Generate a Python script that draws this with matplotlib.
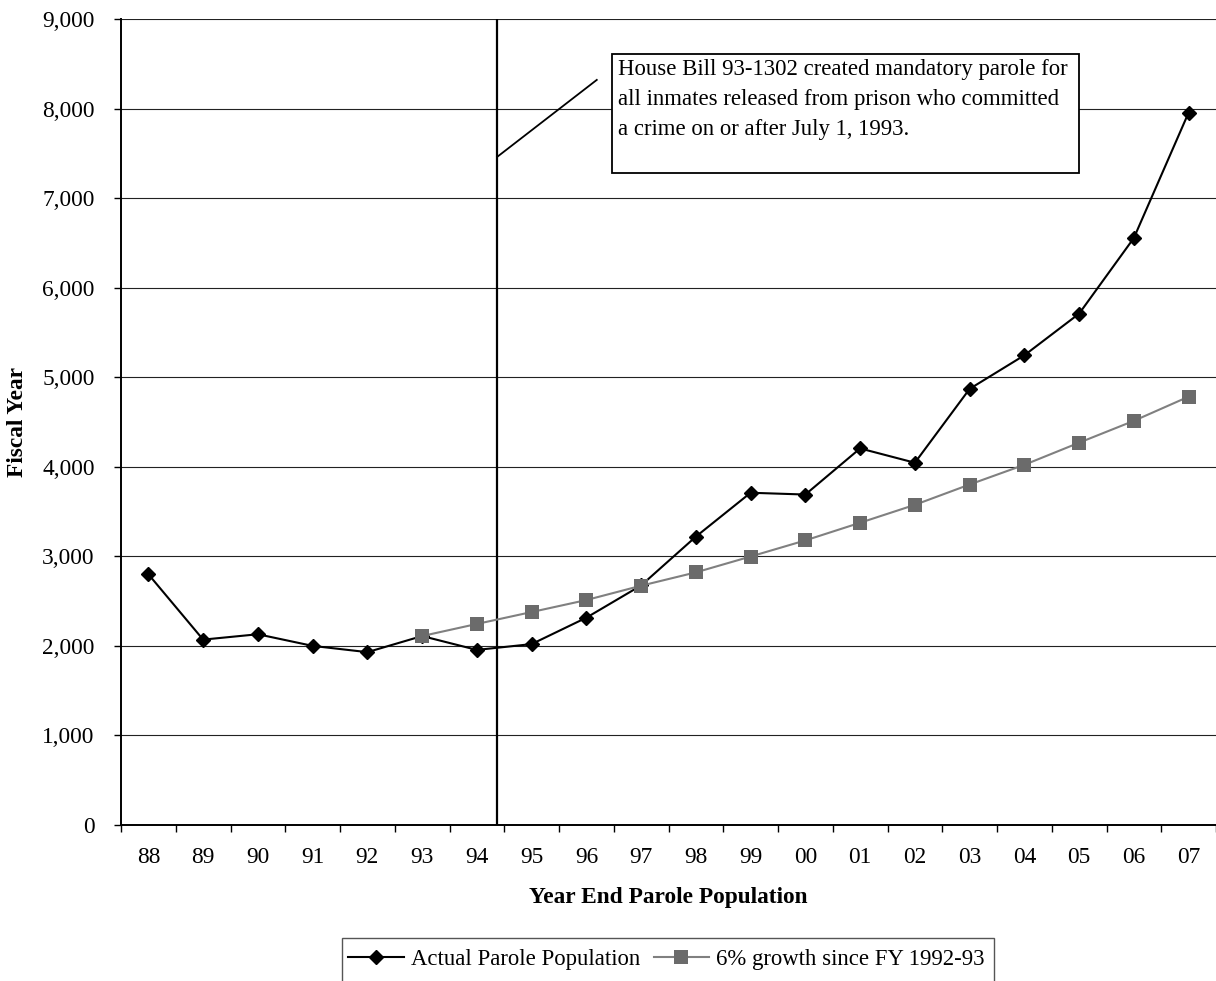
import matplotlib

matplotlib.use("Agg")
import matplotlib.pyplot as plt
from matplotlib.patches import Rectangle
import numpy as np

plt.rcParams["font.family"] = ["Liberation Serif", "DejaVu Serif"]

YEARS = ["88", "89", "90", "91", "92", "93", "94", "95", "96", "97",
         "98", "99", "00", "01", "02", "03", "04", "05", "06", "07"]

ACTUAL = [2800, 2070, 2130, 2000, 1930, 2110, 1955, 2020, 2315, 2675,
          3220, 3710, 3690, 4205, 4045, 4870, 5245, 5710, 6555, 7955]

# 6% growth projection starts at FY 1992-93 (index 5)
GROWTH_START = 5
GROWTH = [2110, 2245, 2378, 2512, 2672, 2821, 2998, 3178, 3375, 3575,
          3802, 4022, 4269, 4513, 4783]

# bill marker line, callout pointer and callout box (data coords)
BILL_X = 6.37
POINTER_X = [6.37, 8.19]
POINTER_Y = [7460, 8320]
BOX_X0, BOX_X1 = 8.47, 17.0
BOX_Y0, BOX_Y1 = 7283, 8609
NOTE = ("House Bill 93-1302 created mandatory parole for\n"
        "all inmates released from prison who committed\n"
        "a crime on or after July 1, 1993.")

FS = 16.8
NOTE_FS = 16.4

W, H = 1216, 981
fig = plt.figure(figsize=(W / 100, H / 100), dpi=100)
ax = fig.add_axes([121 / W, 1 - 825 / H, (1216 - 121) / W, (825 - 19) / H])

x = np.arange(len(YEARS))
ax.plot(x, ACTUAL, color="black", linewidth=1.5, marker="D", markersize=7,
        markerfacecolor="black", markeredgecolor="black", zorder=3,
        label="Actual Parole Population")
ax.plot(x[GROWTH_START:], GROWTH, color="#808080", linewidth=1.5, marker="s",
        markersize=9.5, markerfacecolor="#6b6b6b", markeredgewidth=0, zorder=4,
        label="6% growth since FY 1992-93")

ax.axvline(BILL_X, color="black", linewidth=1.6, zorder=2)
ax.plot(POINTER_X, POINTER_Y, color="black", linewidth=1.3, zorder=2)
ax.add_patch(Rectangle((BOX_X0, BOX_Y0), BOX_X1 - BOX_X0, BOX_Y1 - BOX_Y0,
                       facecolor="white", edgecolor="black", linewidth=1.3, zorder=5))
ax.text(BOX_X0 + 0.11, BOX_Y1 - 60, NOTE, ha="left", va="top", fontsize=NOTE_FS,
        linespacing=1.55, zorder=6)

ax.set_xlim(-0.5, len(YEARS) - 0.5)
ax.set_ylim(0, 9000)
ax.set_yticks(np.arange(0, 9001, 1000))
ax.set_yticklabels([f"{v:,}" for v in range(0, 9001, 1000)])
ax.set_xticks(x)
ax.set_xticklabels(YEARS)
ax.set_xticks(np.arange(-0.5, len(YEARS), 1), minor=True)
ax.tick_params(axis="x", which="major", length=0, pad=16, labelsize=FS)
ax.tick_params(axis="x", which="minor", length=5, width=1, direction="out")
ax.tick_params(axis="y", length=5, width=1, pad=14, labelsize=FS)

ax.grid(axis="y", color="#222222", linewidth=0.8)
ax.set_axisbelow(True)
for side in ["top", "right"]:
    ax.spines[side].set_visible(False)
ax.spines["left"].set_linewidth(1.4)
ax.spines["bottom"].set_linewidth(1.4)

fig.text(18 / W, 1 - 422 / H, "Fiscal Year", rotation=90, ha="center",
         va="center", fontsize=FS, fontweight="bold")
fig.text(668 / W, 1 - 897 / H, "Year End Parole Population", ha="center",
         va="center", fontsize=FS, fontweight="bold")

# legend entries without frame; the frame runs off the bottom edge
fig.legend(loc="center left", bbox_to_anchor=(348 / W, 1 - 959 / H),
           bbox_transform=fig.transFigure, ncol=2, fontsize=NOTE_FS,
           frameon=False, handlelength=2.45, handletextpad=0.3,
           columnspacing=0.6, borderpad=0, borderaxespad=0)
fig.patches.append(Rectangle((342 / W, 1 - 995 / H), (994 - 342) / W, 57 / H,
                             transform=fig.transFigure, facecolor="none",
                             edgecolor="#555555", linewidth=1.0))

fig.savefig("out.png", dpi=100)
